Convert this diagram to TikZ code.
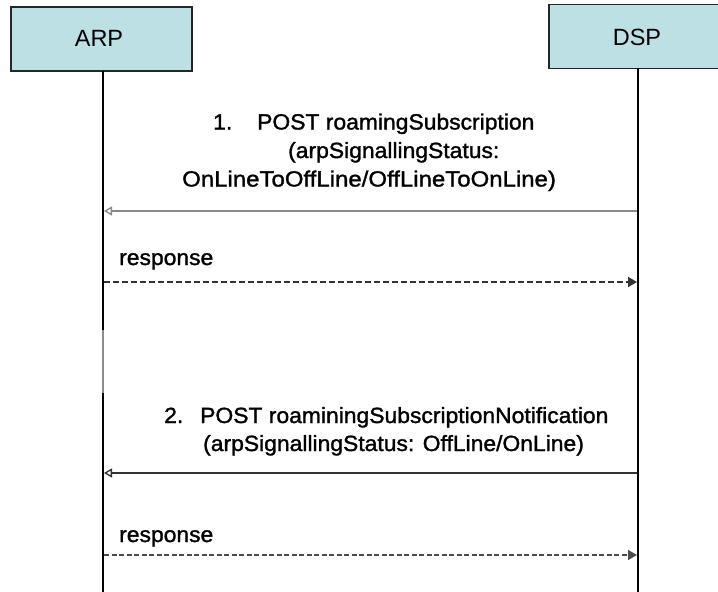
\documentclass[tikz,border=0pt]{standalone}
\usepackage{fontspec}
\setmainfont{Liberation Sans}
\newfontfamily\msgfont{Liberation Sans}[FakeStretch=1.04, FakeBold=1.4]
\newfontfamily\widemsgfont{Liberation Sans}[FakeStretch=1.09, FakeBold=1.4]
\usetikzlibrary{arrows.meta}

\definecolor{boxfill}{RGB}{188,224,228}
\definecolor{msggray}{RGB}{138,138,138}
\definecolor{msgdark}{RGB}{50,50,50}

\tikzset{
  actor/.style={draw=black!85, line width=1.2pt, fill=boxfill, inner sep=0pt,
    minimum height=64pt},
  actorlabel/.style={anchor=base, inner sep=0pt, font=\fontsize{23.5}{28}\selectfont},
  lifeline/.style={line width=2.6pt, black},
  msgtext/.style={anchor=base west, inner sep=0pt,
    font=\msgfont\fontsize{22}{28}\selectfont},
  widemsgtext/.style={msgtext, font=\widemsgfont\fontsize{22}{28}\selectfont},
  request/.style={line width=1.6pt, -{Triangle[open, length=8pt, width=9pt, line width=1.3pt]}},
  reply/.style={dashed, line width=1.8pt, msgdark,
    -{Triangle[length=9pt, width=10pt]}},
}

\begin{document}
\begin{tikzpicture}[x=1pt, y=-1pt]
\useasboundingbox (0,0) rectangle (718,592);

% participants
\node[actor, minimum width=181pt] (arp) at (101.5,39) {};
\node[actor, minimum width=171pt] (dsp) at (634.5,36.5) {};
\node[actorlabel] (arplabel) at (99,46) {ARP};
\node[actorlabel] (dsplabel) at (637,45) {DSP};

% lifelines
\coordinate (arpend) at (103,592);
\coordinate (dspend) at (638,592);
\coordinate (arpfadeA) at (103,330);
\coordinate (arpfadeB) at (103,393);
\draw[lifeline] (103,71) -- (arpend);
\draw[lifeline] (638,68) -- (dspend);
\draw[line width=2.6pt, black!45] (arpfadeA) -- (arpfadeB);

% message anchor points on the lifelines
\coordinate (dsp1) at (637,211);
\coordinate (arp1) at (104,211);
\coordinate (arp2) at (104,282);
\coordinate (dsp2) at (637,282);
\coordinate (dsp3) at (637,473);
\coordinate (arp3) at (104,473);
\coordinate (arp4) at (104,555);
\coordinate (dsp4) at (637,555);

% 1. subscription request and its response
\node[msgtext] (n1) at (213,129.5) {1.};
\node[msgtext] (m1a) at (257,129.5) {POST roamingSubscription};
\node[msgtext] (m1b) at (288,158) {(arpSignallingStatus:};
\node[widemsgtext] (m1c) at (182,186.5) {OnLineToOffLine/OffLineToOnLine)};
\draw[request, msggray] (dsp1) -- (arp1);

\node[msgtext] (r1) at (119,265) {response};
\draw[reply, dash pattern=on 6pt off 3pt] (arp2) -- (dsp2);

% 2. subscription notification and its response
\node[msgtext] (n2) at (164,423) {2.};
\node[msgtext] (m2a) at (200,423) {POST roaminingSubscriptionNotification};
\node[msgtext] (m2b) at (203,451) {(arpSignallingStatus: OffLine/OnLine)};
\draw[request, msgdark, line width=2.2pt] (dsp3) -- (arp3);

\node[msgtext] (r2) at (119,542) {response};
\draw[reply, line width=1.4pt, black!70, dash pattern=on 5pt off 2.5pt] (arp4) -- (dsp4);
\end{tikzpicture}
\end{document}
